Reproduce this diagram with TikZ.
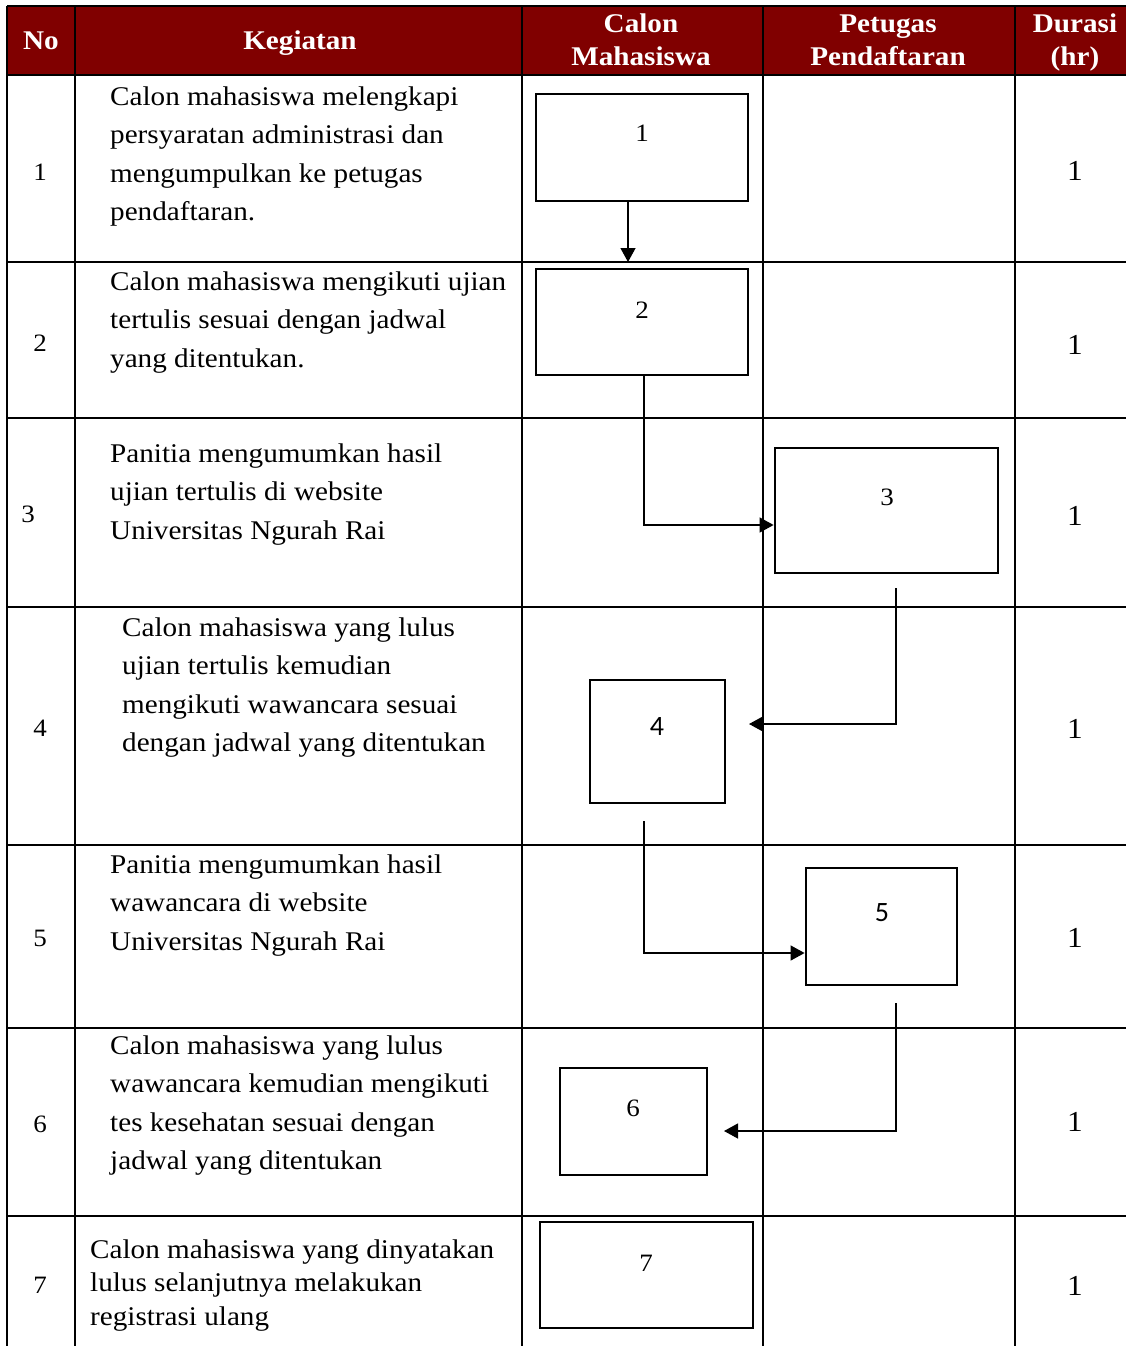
\documentclass[tikz,border=0pt]{standalone}
\usepackage{fontspec}
\setmainfont{Liberation Serif}[FakeStretch=1.08]
\newfontfamily\sansf{Carlito}
\usetikzlibrary{arrows.meta}
\definecolor{hdr}{RGB}{128,0,0}
\newcommand\celltext[1]{\begin{tabular}[t]{@{}l@{}}#1\end{tabular}}
\newcommand\hdrtext[1]{\begin{tabular}[t]{@{}c@{}}#1\end{tabular}}
\begin{document}
\begin{tikzpicture}[x=1pt,y=-1pt,
  grid/.style={line width=2.5pt, black},
  box/.style={draw, line width=2.8pt, inner sep=0pt},
  txt/.style={anchor=base west, inner sep=0pt, font=\fontsize{27}{38.5}\selectfont},
  txtb/.style={anchor=base west, inner sep=0pt, font=\fontsize{27}{33.5}\selectfont},
  num/.style={inner sep=0pt, font=\fontsize{25}{30}\selectfont},
  dur/.style={inner sep=0pt, font=\fontsize{29}{30}\selectfont},
  hd/.style={anchor=base, inner sep=0pt, text=white, font=\fontsize{27}{33}\selectfont\bfseries},
  lab/.style={inner sep=0pt, font=\fontsize{25}{30}\selectfont},
  slab/.style={inner sep=0pt, font=\fontsize{28}{30}\selectfont\sansf},
  conn/.style={line width=1.3pt, -{Triangle[length=14pt,width=15pt]}}
]
\useasboundingbox (0,0) rectangle (1126,1346);
% header background
\fill[hdr] (7,6) rectangle (1126,75);
% grid
\foreach \yy in {6,75,262,418,607,845,1028,1216}
  \draw[grid] (7,\yy) -- (1126,\yy);
\foreach \xx in {7,75,522,763,1015}
  \draw[grid] (\xx,6) -- (\xx,1346);
% header text
\node[hd] (hno) at (41,50) {No};
\node[hd] (hkeg) at (300,50) {Kegiatan};
\node[hd] (hcm) at (641,33) {\hdrtext{Calon\\Mahasiswa}};
\node[hd] (hpp) at (888,33) {\hdrtext{Petugas\\Pendaftaran}};
\node[hd] (hdur) at (1075,33) {\hdrtext{Durasi\\(hr)}};
% No column
\node[num] (n1) at (40,172) {1};
\node[num] (n2) at (40,343) {2};
\node[num] (n3) at (28,514) {3};
\node[num] (n4) at (40,728) {4};
\node[num] (n5) at (40,938) {5};
\node[num] (n6) at (40,1124) {6};
\node[num] (n7) at (40,1285) {7};
% Kegiatan column
\node[txt] (t1) at (110,105) {\celltext{Calon mahasiswa melengkapi\\persyaratan administrasi dan\\mengumpulkan ke petugas\\pendaftaran.}};
\node[txt] (t2) at (110,290) {\celltext{Calon mahasiswa mengikuti ujian\\tertulis sesuai dengan jadwal\\yang ditentukan.}};
\node[txt] (t3) at (110,462) {\celltext{Panitia mengumumkan hasil\\ujian tertulis di website\\Universitas Ngurah Rai}};
\node[txt] (t4) at (122,636) {\celltext{Calon mahasiswa yang lulus\\ujian tertulis kemudian\\mengikuti wawancara sesuai\\dengan jadwal yang ditentukan}};
\node[txt] (t5) at (110,873) {\celltext{Panitia mengumumkan hasil\\wawancara di website\\Universitas Ngurah Rai}};
\node[txt] (t6) at (110,1054) {\celltext{Calon mahasiswa yang lulus\\wawancara kemudian mengikuti\\tes kesehatan sesuai dengan\\jadwal yang ditentukan}};
\node[txtb] (t7) at (90,1258) {\celltext{Calon mahasiswa yang dinyatakan\\lulus selanjutnya melakukan\\registrasi ulang}};
% Durasi column
\node[dur] (d1) at (1075,171) {1};
\node[dur] (d2) at (1075,345) {1};
\node[dur] (d3) at (1075,516) {1};
\node[dur] (d4) at (1075,729) {1};
\node[dur] (d5) at (1075,938) {1};
\node[dur] (d6) at (1075,1122) {1};
\node[dur] (d7) at (1075,1286) {1};
% flow boxes
\node[box, minimum width=212pt, minimum height=107pt] (b1) at (642,147.5) {};
\node[box, minimum width=212pt, minimum height=106pt] (b2) at (642,322) {};
\node[box, minimum width=223pt, minimum height=125pt] (b3) at (886.5,510.5) {};
\node[box, minimum width=135pt, minimum height=123pt] (b4) at (657.5,741.5) {};
\node[box, minimum width=151pt, minimum height=117pt] (b5) at (881.5,926.5) {};
\node[box, minimum width=147pt, minimum height=107pt] (b6) at (633.5,1121.5) {};
\node[box, minimum width=213pt, minimum height=106pt] (b7) at (646.5,1275) {};
% box labels
\node[lab] (l1) at (642,133) {1};
\node[lab] (l2) at (642,310) {2};
\node[lab] (l3) at (887,497) {3};
\node[slab] (l4) at (657,727) {4};
\node[slab] (l5) at (882,913) {5};
\node[lab] (l6) at (633,1108) {6};
\node[lab] (l7) at (646,1263) {7};
% connectors
\coordinate (e1) at (628,262);
\draw[conn] (b1.south -| e1) -- (e1);
\coordinate (k2) at (644,525);
\draw[conn] (b2.south -| k2) |- (b3.west |- k2);
\coordinate (s3) at (896,588);
\coordinate (e4) at (749,724);
\draw[conn] (s3) |- (e4);
\coordinate (s4) at (644,821);
\coordinate (k5) at (644,953);
\draw[conn] (s4) |- (b5.west |- k5);
\coordinate (s5) at (896,1003);
\coordinate (e6) at (724,1131);
\draw[conn] (s5) |- (e6);
\end{tikzpicture}
\end{document}
